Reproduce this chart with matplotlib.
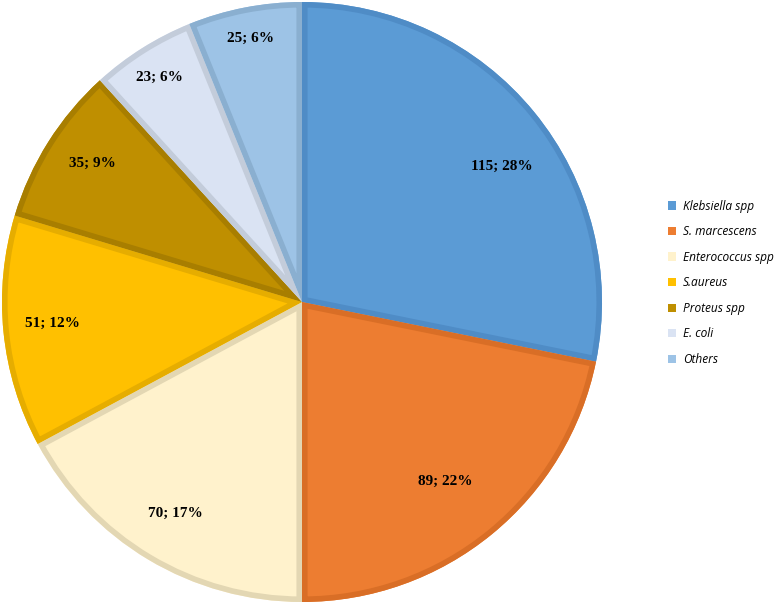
import numpy as np
import matplotlib
matplotlib.use("Agg")
import matplotlib.pyplot as plt
from matplotlib.patches import Patch, Wedge

names = ["Klebsiella spp", "S. marcescens", "Enterococcus spp", "S.aureus",
         "Proteus spp", "E. coli", "Others"]
counts = [115, 89, 70, 51, 35, 23, 25]
pcts = [28, 22, 17, 12, 9, 6, 6]
fills = ["#5B9BD5", "#ED7D31", "#FFF2CC", "#FFC000", "#BF8F00", "#DAE3F3", "#9DC3E6"]
edges = ["#4F8CC6", "#D96E26", "#E3D7B3", "#E6AD00", "#A87E00", "#C3CCDA", "#8AAFD0"]
# label placement: fraction of radius, and angle nudge (deg) from wedge middle
label_r = [0.806, 0.766, 0.82, 0.836, 0.84, 0.887, 0.894]
label_da = [-5.1, -0.7, 0.0, -0.9, -1.3, 0.2, 0.0]

fig = plt.figure(figsize=(7.8, 6.04), dpi=100)
ax = fig.add_axes([2/780, 2/604, 600/780, 600/604])

wedges, _ = ax.pie(counts, colors=fills, startangle=90, counterclock=False,
                   radius=1.0, wedgeprops=dict(edgecolor="none"))
ax.set_xlim(-1.0, 1.0)
ax.set_ylim(-1.0, 1.0)
ax.set_aspect("equal")

# inner border on each wedge: thick outline clipped to the wedge itself
for w, ec in zip(wedges, edges):
    outline = Wedge(w.center, w.r, w.theta1, w.theta2,
                    facecolor="none", edgecolor=ec, linewidth=8)
    ax.add_patch(outline)
    outline.set_clip_path(w)

for w, c, p, r, da in zip(wedges, counts, pcts, label_r, label_da):
    mid = np.deg2rad((w.theta1 + w.theta2) / 2 + da)
    ax.text(r * np.cos(mid), r * np.sin(mid), f"{c}; {p}%",
            ha="center", va="center", fontsize=11, fontweight="bold",
            family="Liberation Serif")

handles = [Patch(facecolor=f, edgecolor="none") for f in fills]
fig.legend(handles, names, loc="upper left", bbox_to_anchor=(657/780, 1 - 189/604),
           frameon=False, prop=dict(family="Open Sans", style="italic", size=8.6),
           handlelength=0.7, handleheight=0.7, handletextpad=0.55, labelspacing=1.05)

fig.savefig("out.png", dpi=100)
